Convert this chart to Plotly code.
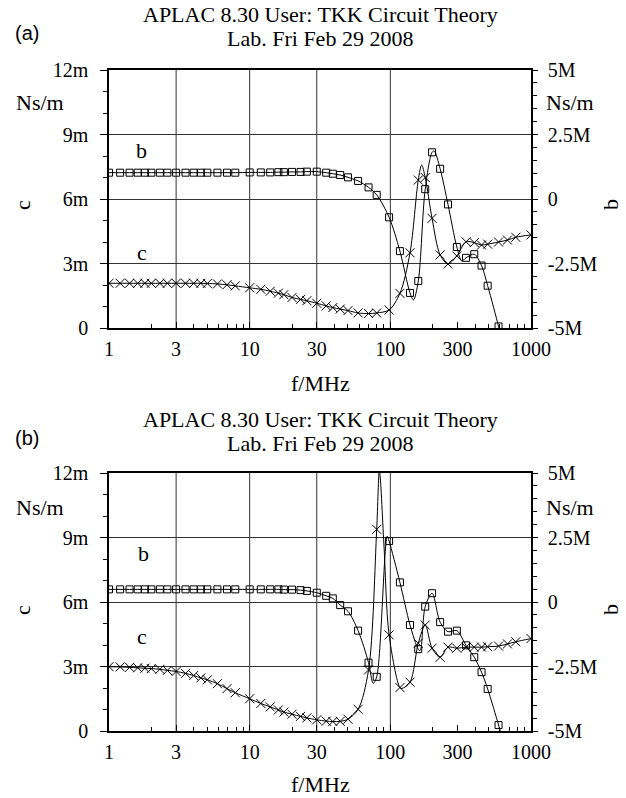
import plotly.graph_objects as go

# ---------------- data ----------------
# frequencies (MHz) at which markers are drawn
F_MARK = [1, 1.2, 1.4, 1.6, 1.8, 2, 2.3, 2.6, 3, 3.5, 4, 4.5, 5, 5.9, 6.9, 7.9,
          10, 12, 14, 16, 17.5, 20, 23, 25.5, 30, 35, 39, 44, 50, 59, 70, 80,
          98, 117, 138, 158, 177, 198, 226, 257, 297, 345, 395, 445, 492, 588,
          680, 780, 1000]

# (a) c in mNs/m, b in MNs/m
C_A = [2.08, 2.08, 2.08, 2.08, 2.08, 2.08, 2.08, 2.08, 2.08, 2.08, 2.08, 2.08, 2.07, 2.05, 2.01, 1.96,
       1.87, 1.80, 1.71, 1.62, 1.55, 1.42, 1.33, 1.27, 1.15, 1.03, 0.95, 0.88, 0.81, 0.70, 0.67, 0.70,
       0.84, 1.61, 3.50, 6.88, 7.00, 5.10, 3.40, 2.98, 3.35, 4.01, 3.97, 3.86, 3.90, 4.00,
       4.09, 4.22, 4.33]
B_A = [1.02, 1.02, 1.02, 1.02, 1.02, 1.02, 1.02, 1.02, 1.02, 1.02, 1.02, 1.02, 1.02, 1.02, 1.02, 1.02,
       1.03, 1.03, 1.03, 1.04, 1.04, 1.05, 1.05, 1.06, 1.06, 1.02, 0.98, 0.93, 0.84, 0.70, 0.45, 0.16,
       -0.71, -2.02, -3.64, -3.18, 0.38, 1.81, 1.17, -0.21, -1.86, -2.28, -2.14, -2.58, -3.36, -4.94]

# extra points read on the drawn curves of (a) (extrema between markers)
C_A_EXTRA_F = [167]
C_A_EXTRA_V = [7.58]
B_A_EXTRA_F = [146, 205, 322, 600]
B_A_EXTRA_V = [-3.91, 1.86, -2.40, -5.15]

# (b)
C_B = [2.99, 2.98, 2.96, 2.94, 2.92, 2.90, 2.87, 2.82, 2.77, 2.68, 2.58, 2.47, 2.38, 2.20, 1.97, 1.78,
       1.50, 1.28, 1.12, 0.98, 0.88, 0.78, 0.68, 0.61, 0.52, 0.46, 0.44, 0.45, 0.55, 1.01, 2.84, 9.38,
       4.47, 2.02, 2.27, 4.08, 4.93, 3.85, 3.43, 3.90, 3.85, 3.90, 3.90, 3.90, 3.92, 3.95,
       4.05, 4.15, 4.30]
B_B = [0.49, 0.49, 0.49, 0.49, 0.49, 0.49, 0.49, 0.49, 0.49, 0.49, 0.49, 0.49, 0.49, 0.49, 0.49, 0.49,
       0.49, 0.49, 0.49, 0.49, 0.48, 0.48, 0.46, 0.43, 0.36, 0.24, 0.14, -0.12, -0.36, -1.11, -2.35, -2.90,
       2.36, 0.76, -0.89, -1.83, -0.18, 0.34, -0.78, -1.15, -1.11, -1.68, -2.14, -2.72, -3.37, -4.77]

C_B_EXTRA_F = [83.6, 90, 121]
C_B_EXTRA_V = [12.1, 8.7, 1.98]
B_B_EXTRA_F = [75.5, 95, 163, 625]
B_B_EXTRA_V = [-3.15, 2.55, -1.88, -5.3]

X_TICKS = [1, 3, 10, 30, 100, 300, 1000]
X_TICK_TEXT = ["1", "3", "10", "30", "100", "300", "1000"]
X_MINOR = [2, 4, 5, 6, 7, 8, 9, 20, 40, 50, 60, 70, 80, 90, 200, 400, 500, 600, 700, 800, 900]
GRID_F = [3, 10, 30, 100]
C_TICKS = [0, 3, 6, 9, 12]
C_TICK_TEXT = ["0", "3m", "6m", "9m", "12m"]
B_TICKS = [-5, -2.5, 0, 2.5, 5]
B_TICK_TEXT = ["-5M", "-2.5M", "0", "2.5M", "5M"]

TITLE1 = "APLAC 8.30 User: TKK Circuit Theory"
TITLE2 = "Lab. Fri Feb 29 2008"

# ---------------- figure ----------------
W, H = 626, 798
SERIF = "Liberation Serif, Times New Roman, serif"
SANS = "Liberation Sans, Arial, sans-serif"
FS = 20
FT = 22


def pxx(x):
    return x / W


def pyy(y):
    return 1 - y / H


def merged(fm, vm, fe, ve):
    pts = sorted(list(zip(fm[:len(vm)], vm)) + list(zip(fe, ve)))
    return [p[0] for p in pts], [p[1] for p in pts]


fig = go.Figure()

line_style = dict(color="black", width=1, shape="spline", smoothing=0.9)
sq = dict(symbol="square-open", size=7, color="black", line=dict(width=1, color="black"))
cr = dict(symbol="x-thin-open", size=9, color="black", line=dict(width=1, color="black"))

panels = [
    ("x", "y", "y2", C_A, B_A, C_A_EXTRA_F, C_A_EXTRA_V, B_A_EXTRA_F, B_A_EXTRA_V),
    ("x2", "y3", "y4", C_B, B_B, C_B_EXTRA_F, C_B_EXTRA_V, B_B_EXTRA_F, B_B_EXTRA_V),
]
for xa, yc, yb, C, B, cef, cev, bef, bev in panels:
    fx, fy = merged(F_MARK, C, cef, cev)
    fig.add_trace(go.Scatter(x=fx, y=fy, mode="lines", line=line_style, xaxis=xa, yaxis=yc,
                             showlegend=False, hoverinfo="skip"))
    fig.add_trace(go.Scatter(x=F_MARK[:len(C)], y=C, mode="markers", marker=cr, xaxis=xa, yaxis=yc,
                             showlegend=False))
    fx, fy = merged(F_MARK, B, bef, bev)
    fig.add_trace(go.Scatter(x=fx, y=fy, mode="lines", line=line_style, xaxis=xa, yaxis=yb,
                             showlegend=False, hoverinfo="skip"))
    fig.add_trace(go.Scatter(x=F_MARK[:len(B)], y=B, mode="markers", marker=sq, xaxis=xa, yaxis=yb,
                             showlegend=False))

X_DOM = [109 / W, 531 / W]
Y_DOM_A = [pyy(328), pyy(70)]
Y_DOM_B = [pyy(731), pyy(473)]

tickfont = dict(family=SERIF, size=FS, color="black")


def xaxis(anchor):
    return dict(type="log", range=[0, 3], domain=X_DOM, anchor=anchor, automargin=False,
                tickmode="array", tickvals=X_TICKS, ticktext=X_TICK_TEXT,
                ticks="inside", ticklen=6, tickcolor="black", tickwidth=1,
                minor=dict(tickmode="array", tickvals=X_MINOR, ticks="inside", ticklen=4,
                           tickcolor="black", tickwidth=1, showgrid=False),
                showgrid=False, showline=True, linecolor="black", linewidth=1.5, mirror=True,
                zeroline=False, tickfont=tickfont, ticklabelstandoff=2)


def caxis(dom, anchor):
    return dict(range=[0, 12], domain=dom, anchor=anchor, automargin=False,
                tickmode="array", tickvals=C_TICKS, ticktext=C_TICK_TEXT,
                ticks="outside", ticklen=7, tickcolor="black", tickwidth=1,
                minor=dict(dtick=1, ticks="outside", ticklen=4, tickcolor="black", tickwidth=1,
                           showgrid=False),
                showgrid=True, gridcolor="#333", gridwidth=1,
                showline=True, linecolor="black", linewidth=1.5, zeroline=False,
                tickfont=tickfont, ticklabelstandoff=8)


def baxis(over, anchor):
    return dict(range=[-5, 5], overlaying=over, anchor=anchor, side="right", automargin=False,
                tickmode="array", tickvals=B_TICKS, ticktext=B_TICK_TEXT,
                ticks="outside", ticklen=5, tickcolor="black", tickwidth=1,
                minor=dict(dtick=0.5, ticks="outside", ticklen=4, tickcolor="black", tickwidth=1,
                           showgrid=False),
                showgrid=False, showline=True, linecolor="black", linewidth=1.5, zeroline=False,
                tickfont=tickfont, ticklabelstandoff=6)


shapes = []
for xa, ya in (("x", "y"), ("x2", "y3")):
    for g in GRID_F:
        shapes.append(dict(type="line", xref=xa, yref=ya + " domain", x0=g, x1=g, y0=0, y1=1,
                           line=dict(color="#333", width=1), layer="below"))

ann = []


def text(x, y, s, font=SERIF, size=FS, angle=0):
    ann.append(dict(x=pxx(x), y=pyy(y), xref="paper", yref="paper", text=s, showarrow=False,
                    xanchor="center", yanchor="middle", textangle=angle,
                    font=dict(family=font, size=size, color="black")))


for off, tag, xlab_y in ((0, "(a)", 383), (405, "(b)", 784)):
    text(320, 14 + off, TITLE1, size=FT)
    text(320, 38 + off, TITLE2, size=FT)
    text(27, 33 + off, tag, font=SANS, size=20)
    text(40, 102 + off, "Ns/m", size=FT)
    text(570, 102 + off, "Ns/m", size=FT)
    text(22, 205 + off, "c", angle=-90, size=FT)
    text(610, 205 + off, "b", angle=-90, size=FT)
    text(320, xlab_y, "f/MHz", size=FT)
text(141, 150, "b", size=FT)
text(142, 252, "c", size=FT)
text(143, 553, "b", size=FT)
text(142, 636, "c", size=FT)

fig.update_layout(
    width=W, height=H, margin=dict(l=0, r=0, t=0, b=0, autoexpand=False),
    paper_bgcolor="white", plot_bgcolor="white",
    xaxis=xaxis("y"), xaxis2=xaxis("y3"),
    yaxis=caxis(Y_DOM_A, "x"), yaxis2=baxis("y", "x"),
    yaxis3=caxis(Y_DOM_B, "x2"), yaxis4=baxis("y3", "x2"),
    shapes=shapes, annotations=ann, showlegend=False,
)

fig.write_html("out.html", config={"displayModeBar": False},
               post_script="document.body.style.margin='0';document.body.style.overflow='hidden';")
